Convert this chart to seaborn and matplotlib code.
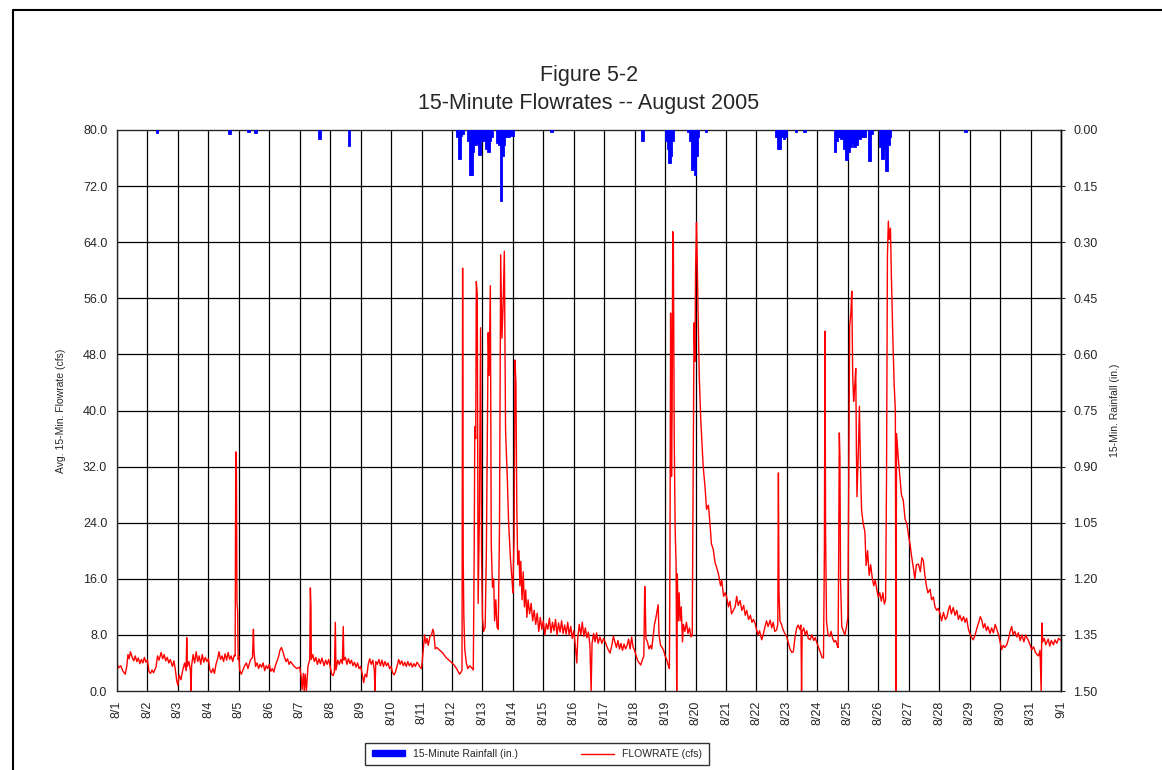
import matplotlib
matplotlib.use('Agg')
import matplotlib.pyplot as plt
from matplotlib.lines import Line2D
from matplotlib.patches import Patch
import seaborn as sns
import pandas as pd

# Caudal medio de 15 minutos (cfs): dia desde 8/1 00:00 y valor
flow_day = [
    0.00, 0.05, 0.12, 0.20, 0.27, 0.32, 0.36, 0.40, 0.44, 0.50, 0.55, 0.60, 0.65, 0.70, 0.75, 0.80, 0.85, 0.90, 0.95, 1.00,
    1.05, 1.10, 1.15, 1.20, 1.28, 1.33, 1.38, 1.45, 1.50, 1.55, 1.60, 1.65, 1.70, 1.75, 1.82, 1.87, 1.92, 1.96, 2.00,
    2.04, 2.10, 2.16, 2.22, 2.27, 2.29, 2.31, 2.36, 2.41, 2.43, 2.45, 2.50, 2.55, 2.60, 2.65, 2.70, 2.75, 2.80, 2.85, 2.90, 2.95, 3.00,
    3.05, 3.10, 3.15, 3.20, 3.25, 3.30, 3.35, 3.40, 3.45, 3.50, 3.55, 3.60, 3.65, 3.70, 3.75, 3.80, 3.85, 3.88, 3.90, 3.92, 3.94, 3.96, 3.98, 4.00,
    4.03, 4.08, 4.12, 4.18, 4.25, 4.30, 4.38, 4.45, 4.48, 4.50, 4.55, 4.60, 4.65, 4.70, 4.75, 4.80, 4.85, 4.90, 4.95, 5.00,
    5.05, 5.10, 5.15, 5.20, 5.30, 5.35, 5.40, 5.45, 5.50, 5.55, 5.60, 5.65, 5.70, 5.80, 5.90, 6.00,
    6.05, 6.08, 6.12, 6.15, 6.18, 6.22, 6.27, 6.33, 6.35, 6.37, 6.38, 6.43, 6.48, 6.53, 6.58, 6.63, 6.68, 6.73, 6.80, 6.85, 6.90, 6.95, 7.00,
    7.05, 7.10, 7.14, 7.17, 7.19, 7.25, 7.30, 7.35, 7.40, 7.43, 7.45, 7.50, 7.55, 7.60, 7.65, 7.70, 7.75, 7.80, 7.85, 7.90, 7.95, 8.00,
    8.05, 8.10, 8.15, 8.20, 8.25, 8.30, 8.35, 8.40, 8.45, 8.47, 8.50, 8.55, 8.60, 8.65, 8.70, 8.75, 8.80, 8.85, 8.90, 8.95, 9.00,
    9.05, 9.10, 9.15, 9.20, 9.25, 9.30, 9.35, 9.40, 9.45, 9.50, 9.55, 9.60, 9.65, 9.70, 9.75, 9.80, 9.85, 9.90, 9.95, 10.00,
    10.05, 10.10, 10.14, 10.18, 10.22, 10.28, 10.33, 10.37, 10.40, 10.45, 10.50, 10.60, 10.70, 10.80, 10.90, 11.00,
    11.05, 11.10, 11.15, 11.20, 11.25, 11.30, 11.33, 11.35, 11.37, 11.39, 11.42, 11.47, 11.52, 11.58, 11.65, 11.70,
    11.73, 11.75, 11.78, 11.80, 11.83, 11.86, 11.90, 11.94, 11.97, 12.00, 12.04, 12.09, 12.13, 12.17, 12.19, 12.22,
    12.26, 12.29, 12.33, 12.37, 12.40, 12.44, 12.48, 12.52, 12.56, 12.60, 12.64, 12.68, 12.72, 12.76, 12.82, 12.86,
    12.92, 12.97, 13.00, 13.04, 13.07, 13.10, 13.13, 13.16, 13.20, 13.23, 13.26, 13.30, 13.34, 13.38, 13.42, 13.46,
    13.50, 13.55, 13.60, 13.65, 13.70, 13.75, 13.80, 13.85, 13.90, 13.95, 14.00, 14.05, 14.10, 14.15, 14.20, 14.25,
    14.30, 14.35, 14.40, 14.45, 14.50, 14.55, 14.60, 14.65, 14.70, 14.75, 14.80, 14.85, 14.90, 14.95, 15.00,
    15.05, 15.10, 15.13, 15.18, 15.23, 15.28, 15.33, 15.38, 15.43, 15.48, 15.53, 15.57, 15.60, 15.65, 15.70, 15.75, 15.80, 15.86, 15.92, 15.98,
    16.05, 16.12, 16.19, 16.25, 16.30, 16.35, 16.40, 16.45, 16.50, 16.55, 16.60, 16.65, 16.70, 16.75, 16.80, 16.85, 16.90, 16.95, 17.00,
    17.05, 17.10, 17.15, 17.20, 17.25, 17.30, 17.33, 17.35, 17.37, 17.42, 17.47, 17.52, 17.56, 17.60, 17.65, 17.70, 17.77, 17.80,
    17.85, 17.90, 17.95, 18.00, 18.05, 18.10, 18.14, 18.16, 18.18, 18.21, 18.23, 18.25, 18.27, 18.30, 18.33, 18.36, 18.38, 18.40,
    18.43, 18.46, 18.49, 18.53, 18.57, 18.60, 18.65, 18.70, 18.75, 18.80, 18.85, 18.89, 18.92, 18.95, 18.98, 19.00, 19.03, 19.05,
    19.08, 19.12, 19.17, 19.25, 19.31, 19.36, 19.42, 19.47, 19.52, 19.58, 19.64, 19.70, 19.76, 19.82, 19.86, 19.92, 19.97, 20.02,
    20.08, 20.13, 20.18, 20.24, 20.30, 20.35, 20.40, 20.46, 20.52, 20.58, 20.63, 20.68, 20.74, 20.80, 20.85, 20.90, 20.95, 21.00,
    21.05, 21.10, 21.17, 21.22, 21.28, 21.33, 21.38, 21.45, 21.50, 21.55, 21.60, 21.66, 21.70, 21.72, 21.74, 21.77, 21.82, 21.87,
    21.93, 21.99, 22.04, 22.10, 22.16, 22.21, 22.26, 22.32, 22.37, 22.42, 22.46, 22.48, 22.50, 22.55, 22.60, 22.65, 22.70, 22.76,
    22.82, 22.88, 22.93, 22.98, 23.04, 23.10, 23.15, 23.20, 23.23, 23.25, 23.27, 23.30, 23.35, 23.40, 23.45, 23.50, 23.55, 23.60,
    23.65, 23.68, 23.70, 23.72, 23.74, 23.76, 23.80, 23.85, 23.90, 23.95, 24.00, 24.03, 24.06, 24.10, 24.13, 24.16, 24.19, 24.22,
    24.26, 24.28, 24.30, 24.35, 24.38, 24.41, 24.45, 24.50, 24.56, 24.60, 24.65, 24.70, 24.75, 24.80, 24.85, 24.90, 24.95, 25.00,
    25.05, 25.10, 25.15, 25.20, 25.24, 25.27, 25.30, 25.33, 25.36, 25.40, 25.43, 25.48, 25.52, 25.56, 25.58, 25.60, 25.66, 25.71,
    25.76, 25.82, 25.88, 25.94, 26.00, 26.04, 26.10, 26.15, 26.20, 26.25, 26.32, 26.38, 26.43, 26.48, 26.53, 26.58, 26.63, 26.70,
    26.75, 26.81, 26.86, 26.92, 26.97, 27.03, 27.08, 27.14, 27.20, 27.25, 27.30, 27.35, 27.40, 27.46, 27.52, 27.58, 27.63, 27.68,
    27.74, 27.80, 27.85, 27.90, 27.96, 28.02, 28.07, 28.12, 28.18, 28.24, 28.30, 28.35, 28.40, 28.45, 28.50, 28.55, 28.60, 28.67,
    28.72, 28.78, 28.84, 28.89, 28.95, 29.00, 29.05, 29.10, 29.15, 29.22, 29.28, 29.33, 29.38, 29.43, 29.48, 29.55, 29.60, 29.66,
    29.72, 29.78, 29.84, 29.88, 29.93, 29.98, 30.04, 30.10, 30.16, 30.21, 30.26, 30.31, 30.35, 30.37, 30.40, 30.45, 30.50, 30.53,
    30.58, 30.63, 30.68, 30.75, 30.80, 30.86, 30.92, 30.97, 31.00,
]
flow_cfs = [
    4.0, 3.3, 3.6, 2.8, 2.4, 3.5, 5.2, 4.6, 5.6, 4.8, 4.3, 5.0, 4.2, 4.7, 3.9, 4.5, 4.0, 4.8, 4.1, 4.4,
    2.8, 2.5, 3.0, 2.6, 3.4, 5.0, 4.4, 5.5, 4.6, 5.2, 4.3, 4.8, 4.0, 4.5, 3.5, 4.3, 2.9, 1.5, 0.8,
    2.3, 1.6, 3.0, 4.0, 2.9, 7.6, 3.5, 4.2, 3.0, 0.0, 3.6, 5.2, 4.0, 5.6, 4.2, 5.0, 3.8, 5.2, 4.1, 4.8, 4.2, 4.6,
    3.0, 2.6, 3.2, 2.5, 3.8, 4.5, 5.6, 4.5, 5.0, 4.2, 5.3, 4.4, 5.5, 4.5, 5.0, 4.2, 5.1, 5.0, 34.1, 33.0, 12.5, 11.5, 4.5, 5.0,
    3.0, 2.4, 2.8, 3.5, 4.0, 3.2, 4.4, 4.8, 8.8, 5.5, 3.5, 4.0, 3.2, 3.8, 3.4, 4.0, 2.9, 3.6, 3.2, 3.8,
    2.8, 3.2, 2.7, 3.6, 4.8, 5.8, 6.2, 5.6, 4.8, 4.2, 4.6, 3.8, 4.2, 3.6, 3.2, 3.4,
    2.0, 0.2, 2.5, 0.0, 2.4, 0.0, 3.5, 4.5, 14.7, 12.0, 4.5, 5.2, 4.2, 4.8, 3.8, 4.6, 3.9, 4.7, 3.6, 4.4, 3.8, 4.5, 3.5,
    2.4, 2.2, 2.8, 9.8, 3.0, 4.4, 3.8, 4.5, 3.9, 9.2, 4.4, 4.8, 3.8, 4.6, 3.9, 4.4, 3.6, 4.1, 3.4, 4.0, 3.2, 3.5,
    2.5, 1.2, 2.4, 2.0, 3.8, 4.6, 3.8, 4.4, 3.0, 0.0, 4.2, 3.8, 4.5, 3.6, 4.4, 3.5, 4.2, 3.6, 4.0, 3.2, 3.5,
    2.6, 2.3, 2.8, 3.6, 4.5, 3.8, 4.3, 3.6, 4.1, 3.5, 4.2, 3.6, 4.0, 3.4, 3.9, 3.5, 4.1, 3.8, 3.4, 3.2,
    5.5, 8.0, 6.8, 7.5, 6.5, 7.8, 8.0, 8.8, 8.4, 6.0, 6.2, 5.8, 5.4, 4.8, 4.4, 4.0,
    3.8, 3.5, 3.2, 2.8, 2.4, 2.7, 3.0, 60.3, 18.7, 10.6, 6.0, 4.0, 3.2, 3.6, 3.3, 3.0,
    20.0, 37.7, 36.0, 58.4, 56.7, 12.5, 25.0, 51.8, 20.0, 10.5, 8.5, 9.1, 20.0, 40.0, 51.1, 45.0,
    57.8, 21.0, 14.8, 16.0, 10.0, 13.0, 9.1, 8.8, 23.0, 62.2, 50.3, 55.0, 62.7, 37.2, 30.0, 24.0,
    18.9, 16.0, 14.0, 22.0, 47.2, 44.0, 26.0, 18.0, 20.0, 15.0, 18.5, 13.0, 17.0, 12.0, 14.4, 10.5,
    13.0, 11.0, 12.5, 10.0, 11.5, 9.5, 11.1, 8.5, 10.5, 8.8, 10.0, 8.0, 9.6, 8.8, 10.4, 8.3,
    9.8, 8.6, 10.2, 8.0, 9.7, 8.4, 10.0, 8.2, 9.4, 8.1, 9.8, 8.0, 9.2, 7.5, 8.6,
    6.5, 4.0, 7.5, 9.5, 8.0, 9.8, 7.8, 9.0, 7.6, 8.4, 6.5, 0.0, 6.8, 8.2, 7.0, 8.3, 6.8, 7.7, 6.8, 7.5,
    6.8, 6.0, 5.4, 6.5, 7.8, 7.0, 6.2, 7.2, 6.0, 6.8, 5.8, 6.7, 6.0, 6.5, 7.4, 6.0, 7.7, 6.2, 5.8,
    5.0, 4.3, 4.0, 3.7, 4.4, 5.0, 14.9, 12.0, 7.5, 7.0, 6.0, 6.5, 6.0, 7.5, 9.5, 10.5, 12.3, 8.0,
    6.5, 6.2, 5.8, 5.0, 4.5, 3.7, 3.2, 20.0, 53.9, 30.6, 40.0, 65.5, 64.0, 35.4, 23.0, 18.0, 0.0, 16.7,
    10.0, 14.0, 10.0, 12.0, 7.0, 9.5, 8.5, 9.8, 8.2, 9.0, 7.7, 8.0, 30.0, 52.5, 47.0, 60.0, 66.8, 62.5,
    54.5, 45.0, 38.7, 32.0, 29.1, 25.9, 26.5, 24.0, 21.0, 20.2, 18.3, 17.5, 16.5, 15.0, 15.8, 13.5, 14.0, 13.4,
    12.0, 12.8, 11.0, 11.5, 12.0, 13.5, 12.2, 12.9, 11.5, 12.2, 10.8, 11.5, 10.2, 10.8, 9.8, 10.2, 9.7, 8.8,
    8.0, 8.6, 7.3, 8.0, 9.2, 10.0, 9.2, 10.1, 9.0, 9.8, 8.5, 8.7, 9.5, 31.1, 14.0, 10.0, 9.5, 8.8,
    8.2, 7.8, 7.0, 6.0, 5.5, 5.6, 7.5, 9.0, 9.4, 8.8, 9.4, 0.0, 8.5, 9.0, 8.0, 8.6, 7.5, 7.3,
    8.0, 7.2, 7.6, 6.9, 6.2, 5.5, 4.8, 4.7, 20.0, 51.3, 22.0, 9.9, 8.0, 7.8, 8.5, 7.5, 7.0, 7.2,
    6.5, 6.2, 20.0, 36.8, 33.5, 15.8, 9.2, 8.6, 8.0, 9.0, 10.5, 30.0, 52.0, 54.0, 57.0, 45.0, 41.3, 43.0,
    46.0, 35.0, 27.7, 35.0, 40.6, 33.0, 25.9, 24.0, 22.7, 17.9, 20.0, 16.5, 18.0, 16.2, 15.0, 15.8, 14.5, 13.4,
    14.0, 12.8, 14.0, 12.4, 13.0, 30.0, 62.0, 67.0, 64.4, 66.0, 59.1, 50.0, 43.9, 40.0, 0.0, 36.7, 33.0, 30.5,
    28.0, 27.2, 24.5, 23.8, 22.0, 21.0, 19.0, 17.6, 16.0, 18.0, 18.1, 17.0, 19.0, 18.6, 16.5, 15.0, 14.0, 14.5,
    13.0, 13.4, 12.0, 11.5, 11.8, 11.0, 10.0, 11.2, 10.2, 10.5, 11.5, 12.2, 11.0, 11.9, 10.8, 11.5, 10.2, 10.8,
    10.0, 10.6, 9.8, 10.4, 8.8, 8.0, 7.6, 7.3, 8.0, 9.0, 9.8, 10.6, 10.1, 9.0, 9.6, 8.6, 9.2, 8.2,
    9.0, 8.3, 9.5, 8.8, 8.0, 7.0, 5.9, 6.5, 6.2, 6.6, 7.5, 8.5, 9.2, 8.0, 8.5, 7.7, 8.3, 7.2,
    8.0, 7.0, 8.0, 7.6, 7.2, 6.6, 5.9, 6.3, 5.5, 5.2, 5.0, 5.8, 0.0, 9.7, 7.0, 7.5, 6.6, 6.9,
    7.4, 6.4, 7.2, 6.6, 7.3, 6.8, 7.5, 7.3, 7.2,
]

# Lluvia de 15 minutos (pulgadas)
rain_day = [
    1.31, 3.69, 4.32, 4.54, 6.64, 7.62,
    11.18, 11.24, 11.29, 11.34, 11.55, 11.60, 11.64, 11.68, 11.73, 11.78, 11.84, 11.90, 11.96, 12.00,
    12.07, 12.13, 12.19, 12.24, 12.30, 12.50, 12.55, 12.61, 12.66, 12.71, 12.80, 12.87, 12.93, 13.00,
    14.27, 17.26, 18.05, 18.10, 18.14, 18.19, 18.24, 18.76, 18.84, 18.88, 18.93, 18.98, 19.03, 19.08, 19.34,
    21.66, 21.72, 21.75, 21.82, 21.90, 21.96, 22.30, 22.57,
    23.58, 23.63, 23.70, 23.80, 23.90, 23.96, 24.02, 24.10, 24.17, 24.23, 24.30, 24.38, 24.47, 24.56, 24.71, 24.78,
    25.06, 25.12, 25.15, 25.20, 25.28, 25.33, 25.38, 27.87,
]
rain_in = [
    0.008, 0.010, 0.005, 0.008, 0.025, 0.043,
    0.020, 0.078, 0.015, 0.010, 0.030, 0.120, 0.120, 0.060, 0.035, 0.040, 0.035, 0.066, 0.030, 0.020,
    0.030, 0.050, 0.058, 0.030, 0.020, 0.035, 0.040, 0.190, 0.070, 0.040, 0.020, 0.020, 0.015, 0.015,
    0.005, 0.030, 0.030, 0.050, 0.089, 0.070, 0.030, 0.005, 0.030, 0.107, 0.100, 0.120, 0.070, 0.020, 0.005,
    0.020, 0.050, 0.050, 0.020, 0.025, 0.020, 0.005, 0.005,
    0.060, 0.030, 0.020, 0.025, 0.050, 0.080, 0.060, 0.045, 0.035, 0.045, 0.040, 0.025, 0.020, 0.020, 0.083, 0.010,
    0.045, 0.060, 0.077, 0.050, 0.110, 0.040, 0.020, 0.005,
]

day_labels = ['8/%d' % d for d in range(1, 32)] + ['9/1']

flujo = pd.DataFrame({'dia': flow_day, 'caudal': flow_cfs})

sns.set_style('white')
plt.rcParams['font.family'] = ['Liberation Sans', 'DejaVu Sans']

fig = plt.figure(figsize=(11.62, 7.70), dpi=100)
ax = fig.add_axes([117 / 1162, 1 - 691 / 770, 944 / 1162, 561 / 770])

# Rejilla negra de la hoja original
for i in range(32):
    ax.axvline(i, color='black', lw=0.9, zorder=0)
for v in range(8, 80, 8):
    ax.axhline(v, color='black', lw=0.9, zorder=0)

sns.lineplot(data=flujo, x='dia', y='caudal', ax=ax, color='#ff0000', lw=1.0,
             estimator=None, sort=False, zorder=3)

ax.set_xlim(0, 31)
ax.set_ylim(0, 80)
ax.set_yticks(range(0, 81, 8))
ax.set_yticklabels(['%.1f' % v for v in range(0, 81, 8)], fontsize=9)
ax.set_xticks(range(32))
ax.set_xticklabels(day_labels, rotation=90, fontsize=9)
ax.tick_params(axis='y', length=0, pad=7)
ax.tick_params(axis='x', direction='inout', length=6, width=0.8, pad=4)
ax.set_xlabel('')
ax.set_ylabel('Avg. 15-Min. Flowrate (cfs)', fontsize=7.5, labelpad=12)
for s in ax.spines.values():
    s.set_color('#666666')
    s.set_linewidth(1.0)

# Eje derecho: lluvia invertida
ax2 = ax.twinx()
ax2.bar(rain_day, rain_in, width=0.09, color='#0000ff', edgecolor='#0000ff',
        linewidth=0.6, align='center', zorder=4)
ax2.set_ylim(1.5, 0)
ax2.set_yticks([i * 0.15 for i in range(11)])
ax2.set_yticklabels(['%.2f' % (i * 0.15) for i in range(11)], fontsize=9)
ax2.tick_params(axis='y', direction='inout', length=6, width=0.8, pad=6)
ax2.set_ylabel('15-Min. Rainfall (in.)', fontsize=7.5, labelpad=9)
ax2.spines['right'].set_color('black')
ax2.spines['right'].set_linewidth(1.0)

fig.text(589 / 1162, 1 - 75 / 770, 'Figure 5-2', ha='center', va='center', fontsize=15.5)
fig.text(589 / 1162, 1 - 104 / 770, '15-Minute Flowrates -- August 2005', ha='center', va='center', fontsize=15.5)

handles = [Patch(facecolor='#0000ff', edgecolor='#0000ff'),
           Line2D([0], [0], color='#ff0000', lw=1.0)]
leg = fig.legend(handles, ['15-Minute Rainfall (in.)', 'FLOWRATE (cfs)'],
                 loc='center', bbox_to_anchor=(537 / 1162, 1 - 754 / 770), ncol=2,
                 fontsize=7.5, frameon=True, fancybox=False, handlelength=3.2,
                 handleheight=0.5, columnspacing=6, borderpad=0.6)
leg.get_frame().set_edgecolor('black')
leg.get_frame().set_linewidth(1.0)

# Marco de la hoja
fig.add_artist(Line2D([13 / 1162, 1], [1 - 9.5 / 770, 1 - 9.5 / 770], color='black', lw=1.5))
fig.add_artist(Line2D([13 / 1162, 13 / 1162], [0, 1 - 9.5 / 770], color='black', lw=1.5))

fig.savefig('out.png', dpi=100)
